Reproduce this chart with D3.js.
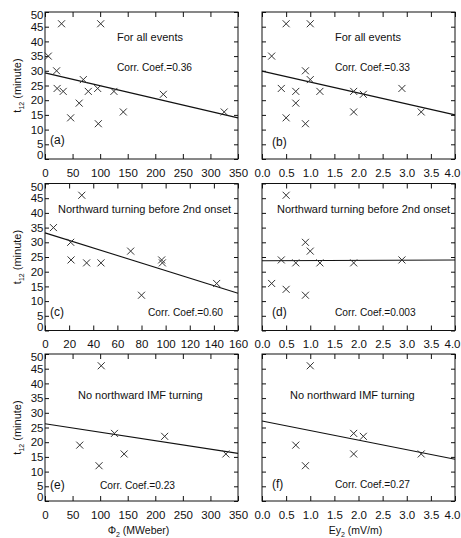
<!DOCTYPE html>
<html>
<head>
<meta charset="utf-8">
<script src="https://cdn.jsdelivr.net/npm/d3@7"></script>
<style>
body { margin: 0; background: #fff; }
text { font-family: "Liberation Sans", Arial, sans-serif; fill: #111; }
</style>
</head>
<body>
<div class="canvas"></div>
<script>
// tick values
const yTicks = d3.range(0, 51, 5);
const phiTicks = d3.range(0, 351, 50);
const phiTicksC = d3.range(0, 161, 20);
const eyTicks = d3.range(0, 4.01, 0.5);

// (a) all events, Phi2
const phiA = [6, 30, 101, 21, 69.5, 22, 33, 78.5, 95.5, 125, 214.6, 62, 46.5, 96.7, 142, 325];
const tA   = [35, 46, 46, 30, 27, 24, 23, 23, 24, 23, 22, 19, 14, 12, 16, 16];
// (b) all events, Ey2
const eyB = [0.2, 0.5, 1.0, 0.9, 1.0, 0.4, 0.7, 1.2, 1.9, 2.1, 2.9, 0.7, 0.5, 0.9, 1.9, 3.3];
const tB  = [35, 46, 46, 30, 27, 24, 23, 23, 23, 22, 24, 19, 14, 12, 16, 16];
// (c) northward turning, Phi2
const phiC = [7, 30.5, 21.3, 21.6, 34.5, 46.4, 71, 96.7, 97.3, 80, 142.3];
const tC   = [35, 46, 30, 24, 23, 23, 27, 24, 23, 12, 16];
// (d) northward turning, Ey2
const eyD = [0.5, 0.9, 1.0, 0.4, 0.7, 1.2, 1.9, 2.9, 0.2, 0.5, 0.9];
const tD  = [46, 30, 27, 24, 23, 23, 23, 24, 16, 14, 12];
// (e) no northward turning, Phi2
const phiE = [102, 63, 98, 126, 143.5, 217, 328];
const tE   = [46, 19, 12, 23, 16, 22, 16];
// (f) no northward turning, Ey2
const eyF = [1.0, 0.7, 0.9, 1.9, 2.1, 1.9, 3.3];
const tF  = [46, 19, 12, 23, 22, 16, 16];

// fitted line, t12 at the two ends of the x range
const fitA = [29.3, 14.0];
const fitB = [29.9, 15.0];
const fitC = [33.2, 12.7];
const fitD = [23.7, 24.0];
const fitE = [26.3, 16.2];
const fitF = [27.2, 14.2];

const corrs = ['0.36', '0.33', '0.60', '0.003', '0.23', '0.27'];
const titles = ['For all events', 'For all events',
                'Northward turning before 2nd onset', 'Northward turning before 2nd onset',
                'No northward IMF turning', 'No northward IMF turning'];
const letters = ['(a)', '(b)', '(c)', '(d)', '(e)', '(f)'];

// layout
const cols = [45, 262];
const rows = [12, 183.5, 354];
const plotW = 193, plotH = 147;

const panels = [
  {xs: phiA, ts: tA, fit: fitA, xTicks: phiTicks, col: 0, row: 0, tx: 72, ty: 29, cx: 72, cy: 59, lx: 5, ly: 132},
  {xs: eyB,  ts: tB, fit: fitB, xTicks: eyTicks,  col: 1, row: 0, tx: 73, ty: 29, cx: 73, cy: 59, lx: 10, ly: 134},
  {xs: phiC, ts: tC, fit: fitC, xTicks: phiTicksC, col: 0, row: 1, tx: 13, ty: 29, cx: 103, cy: 132.5, lx: 5, ly: 132.5},
  {xs: eyD,  ts: tD, fit: fitD, xTicks: eyTicks,  col: 1, row: 1, tx: 15, ty: 29.5, cx: 73, cy: 132.5, lx: 10, ly: 132.5},
  {xs: phiE, ts: tE, fit: fitE, xTicks: phiTicks, col: 0, row: 2, tx: 33, ty: 45, cx: 55, cy: 135, lx: 5, ly: 135},
  {xs: eyF,  ts: tF, fit: fitF, xTicks: eyTicks,  col: 1, row: 2, tx: 28, ty: 45, cx: 73, cy: 134, lx: 10, ly: 134}
];

const svg = d3.select('.canvas')
              .append('svg')
              .attr('width', 461)
              .attr('height', 538);

panels.forEach((p, i) => {
  const left = cols[p.col], top = rows[p.row];
  const xMax = p.xTicks[p.xTicks.length - 1];
  const x = d3.scaleLinear()
              .domain([p.xTicks[0], xMax])
              .range([left, left + plotW]);
  const y = d3.scaleLinear()
              .domain([0, 50])
              .range([top + plotH, top]);
  const fmt = p.col === 1 ? d3.format('.1f') : d3.format('d');

  const g = svg.append('g');

  // axes, ticks pointing inward
  const xAxisB = g.append('g')
                  .attr('transform', `translate(0, ${top + plotH})`)
                  .call(d3.axisBottom(x).tickValues(p.xTicks).tickSize(-5).tickPadding(9.5).tickFormat(fmt));
  g.append('g')
   .attr('transform', `translate(0, ${top})`)
   .call(d3.axisTop(x).tickValues(p.xTicks).tickSize(-5).tickFormat(''));
  const yAxisL = g.append('g')
                  .attr('transform', `translate(${left}, 0)`)
                  .call(d3.axisLeft(y).tickValues(yTicks).tickSize(-4).tickPadding(1.5)
                          .tickFormat(p.col === 0 ? d3.format('d') : ''));
  g.append('g')
   .attr('transform', `translate(${left + plotW}, 0)`)
   .call(d3.axisRight(y).tickValues(yTicks).tickSize(-4).tickFormat(''));

  g.selectAll('.domain').remove();
  g.selectAll('.tick line').attr('stroke', '#111');
  g.selectAll('.tick text')
   .style('font-size', '11.5px')
   .attr('fill', '#111');

  // keep the end labels inside the box height / page width
  yAxisL.selectAll('.tick text')
        .attr('y', d => d === 50 ? 3 : d === 0 ? -4 : 0);
  if (p.col === 1) {
    xAxisB.selectAll('.tick text')
          .attr('x', d => d === xMax ? -3 : 0);
  }

  // box
  g.append('rect')
   .attr('x', left).attr('y', top)
   .attr('width', plotW).attr('height', plotH)
   .attr('fill', 'none')
   .attr('stroke', '#111')
   .attr('stroke-width', 1);

  // fit line
  const ends = [[x.domain()[0], p.fit[0]], [x.domain()[1], p.fit[1]]];
  g.append('path')
   .attr('d', d3.line().x(d => x(d[0])).y(d => y(d[1]))(ends))
   .attr('fill', 'none')
   .attr('stroke', '#111')
   .attr('stroke-width', 1.1);

  // X markers
  g.selectAll('.pt')
   .data(p.xs.map((v, j) => [v, p.ts[j]]))
   .enter()
   .append('path')
   .attr('class', 'pt')
   .attr('transform', d => `translate(${x(d[0])}, ${y(d[1])})`)
   .attr('d', 'M-3.5,-3.5L3.5,3.5M-3.5,3.5L3.5,-3.5')
   .attr('stroke', '#333')
   .attr('stroke-width', 1);

  // annotations
  g.append('text')
   .attr('x', left + p.tx).attr('y', top + p.ty)
   .style('font-size', '11px')
   .text(titles[i]);
  g.append('text')
   .attr('x', left + p.cx).attr('y', top + p.cy)
   .style('font-size', '10.2px')
   .text('Corr. Coef.=' + corrs[i]);
  g.append('text')
   .attr('x', left + p.lx).attr('y', top + p.ly)
   .style('font-size', '12px')
   .text(letters[i]);

  // y title on left column
  if (p.col === 0) {
    const yt = g.append('text')
                .attr('transform', `translate(21, ${top + plotH / 2}) rotate(-90)`)
                .attr('text-anchor', 'middle')
                .style('font-size', '11px');
    yt.append('tspan').text('t');
    yt.append('tspan').attr('dy', 2.5).style('font-size', '7px').text('12');
    yt.append('tspan').attr('dy', -2.5).text(' (minute)');
  }

  // x title on bottom row
  if (p.row === 2) {
    const xt = g.append('text')
                .attr('x', left + plotW / 2 - 3)
                .attr('y', 534)
                .attr('text-anchor', 'middle')
                .style('font-size', '10.5px');
    xt.append('tspan').text(p.col === 0 ? 'Φ' : 'Ey');
    xt.append('tspan').attr('dy', 2.5).style('font-size', '7px').text('2');
    xt.append('tspan').attr('dy', -2.5).text(p.col === 0 ? ' (MWeber)' : ' (mV/m)');
  }
});
</script>
</body>
</html>
